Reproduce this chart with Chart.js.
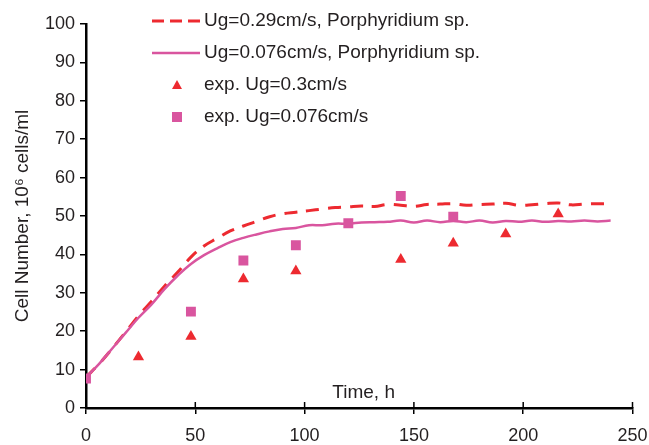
<!DOCTYPE html>
<html>
<head>
<meta charset="utf-8">
<script src="https://cdn.jsdelivr.net/npm/chart.js@4.4.1/dist/chart.umd.min.js"></script>
<style>
	html, body { margin: 0; padding: 0; background: #fff; }
</style>
</head>
<body>
<canvas id="chart" width="649" height="445"></canvas>
<script>
const FONT = '"Liberation Sans", Arial, sans-serif';
const TEXT = '#231f20';
const RED = '#ed2a30';
const PINK = '#d9559f';

// model curves, time in hours
const modelTimes = [0, 6, 12, 18, 24, 30, 36, 42, 48, 54, 60, 66, 72, 78, 84, 90, 96, 102, 108, 114, 120,
	126, 132, 138, 144, 150, 156, 162, 168, 174, 180, 186, 192, 198, 204, 210, 216, 222, 228, 234, 240];
const modelFast = [8, 11.5, 15.5, 19.7, 24, 27.8, 31.8, 35.4, 39.3, 42.2, 44.2, 46.1, 47.4, 48.6, 49.8, 50.6, 51, 51.4, 51.8, 52.2, 52.4,
	52.6, 52.5, 53, 52.8, 52.5, 53, 53.1, 53.2, 52.8, 53, 53.1, 53.3, 52.8, 52.9, 53.2, 53.4, 52.9, 53.1, 53.2, 53.2];
const modelSlow = [8, 11.5, 15.5, 19.5, 23.5, 27, 31, 34.5, 37.5, 39.8, 41.6, 43.2, 44.3, 45.2, 46, 46.6, 46.9, 47.6, 47.6, 48, 48,
	48.3, 48.4, 48.5, 48.8, 48.3, 48.8, 48.4, 48.7, 48.4, 48.8, 48.3, 48.7, 48.5, 48.8, 48.5, 48.7, 48.6, 48.8, 48.6, 48.8];

// experiments
const expFastTimes = [24, 48, 72, 96, 144, 168, 192, 216];
const expFastValues = [13.3, 18.6, 33.6, 35.7, 38.7, 42.9, 45.3, 50.5];
const expSlowTimes = [0, 48, 72, 96, 120, 144, 168];
const expSlowValues = [7.7, 25.1, 38.4, 42.4, 48.1, 55.2, 49.8];

const xTicks = [0, 50, 100, 150, 200, 250];
const yTicks = [0, 10, 20, 30, 40, 50, 60, 70, 80, 90, 100];

function toPoints(xs, ys) {
	return xs.map((x, i) => ({ x, y: ys[i] }));
}

// legend, inner half of x ticks and the "Time, h" label
const overlay = {
	id: 'overlay',
	afterDraw(chart) {
		const { ctx, scales: { x, y } } = chart;
		ctx.save();

		ctx.strokeStyle = '#000';
		ctx.lineWidth = 1.5;
		xTicks.forEach((t) => {
			const px = x.getPixelForValue(t);
			ctx.beginPath();
			ctx.moveTo(px, y.bottom);
			ctx.lineTo(px, y.bottom - 6);
			ctx.stroke();
		});

		ctx.font = '19px ' + FONT;
		ctx.fillStyle = TEXT;
		ctx.textAlign = 'center';
		ctx.textBaseline = 'middle';
		ctx.fillText('Time, h', x.getPixelForValue(127), y.getPixelForValue(4));

		chart.data.datasets.forEach((ds, i) => {
			const rowY = 21 + i * 32;
			if (ds.showLine) {
				ctx.strokeStyle = ds.borderColor;
				ctx.lineWidth = ds.borderWidth;
				ctx.setLineDash(ds.legendDash || []);
				ctx.beginPath();
				ctx.moveTo(152, rowY);
				ctx.lineTo(200, rowY);
				ctx.stroke();
				ctx.setLineDash([]);
			} else {
				ctx.fillStyle = ds.backgroundColor;
				ctx.beginPath();
				if (ds.pointStyle === 'triangle') {
					ctx.moveTo(177, rowY - 5);
					ctx.lineTo(182, rowY + 4);
					ctx.lineTo(172, rowY + 4);
				} else {
					ctx.rect(172, rowY - 5, 10, 10);
				}
				ctx.fill();
			}
			ctx.fillStyle = TEXT;
			ctx.textAlign = 'left';
			ctx.fillText(ds.label, 204, rowY);
		});

		ctx.restore();
	},
};

new Chart(document.getElementById('chart'), {
	type: 'scatter',
	data: {
		datasets: [
			{
				label: 'Ug=0.29cm/s, Porphyridium sp.',
				data: toPoints(modelTimes, modelFast),
				showLine: true,
				borderColor: RED,
				borderWidth: 3,
				borderDash: [13, 9],
				legendDash: [12, 6],
				pointRadius: 0,
				tension: 0.4,
				order: 3,
			},
			{
				label: 'Ug=0.076cm/s, Porphyridium sp.',
				data: toPoints(modelTimes, modelSlow),
				showLine: true,
				borderColor: PINK,
				borderWidth: 2.5,
				pointRadius: 0,
				tension: 0.4,
				order: 2,
			},
			{
				label: 'exp. Ug=0.3cm/s',
				data: toPoints(expFastTimes, expFastValues),
				pointStyle: 'triangle',
				pointRadius: 6.5,
				backgroundColor: RED,
				borderWidth: 0,
				order: 1,
			},
			{
				label: 'exp. Ug=0.076cm/s',
				data: toPoints(expSlowTimes, expSlowValues),
				pointStyle: 'rect',
				pointRadius: 7,
				backgroundColor: PINK,
				borderWidth: 0,
				order: 0,
			},
		],
	},
	options: {
		responsive: false,
		animation: false,
		layout: { padding: { top: 24, right: 16.5, left: 0, bottom: 0 } },
		plugins: {
			legend: { display: false },
			tooltip: { enabled: false },
		},
		scales: {
			x: {
				type: 'linear',
				min: 0,
				max: 250,
				afterBuildTicks: (scale) => {
					scale.ticks = xTicks.map((value) => ({ value }));
				},
				afterFit: (scale) => {
					scale.height = 37;
					scale.paddingLeft = 0;
					scale.paddingRight = 0;
				},
				border: { color: '#000', width: 2.5 },
				grid: { drawOnChartArea: false, color: '#000', lineWidth: 1.5, tickLength: 6 },
				ticks: { color: TEXT, font: { family: FONT, size: 18 }, padding: 11, maxRotation: 0 },
			},
			y: {
				type: 'linear',
				min: 0,
				max: 100,
				afterBuildTicks: (scale) => {
					scale.ticks = yTicks.map((value) => ({ value }));
				},
				afterFit: (scale) => {
					scale.width = 86;
					scale.paddingTop = 0;
					scale.paddingBottom = 0;
				},
				border: { color: '#000', width: 2.5 },
				grid: { drawOnChartArea: false, color: '#000', lineWidth: 1.5, tickLength: 6 },
				ticks: { color: TEXT, font: { family: FONT, size: 18 }, padding: 5 },
				title: {
					display: true,
					text: 'Cell Number, 10⁶ cells/ml',
					color: TEXT,
					font: { family: FONT, size: 19 },
					padding: { top: 11, bottom: 0 },
				},
			},
		},
	},
	plugins: [overlay],
});
</script>
</body>
</html>
